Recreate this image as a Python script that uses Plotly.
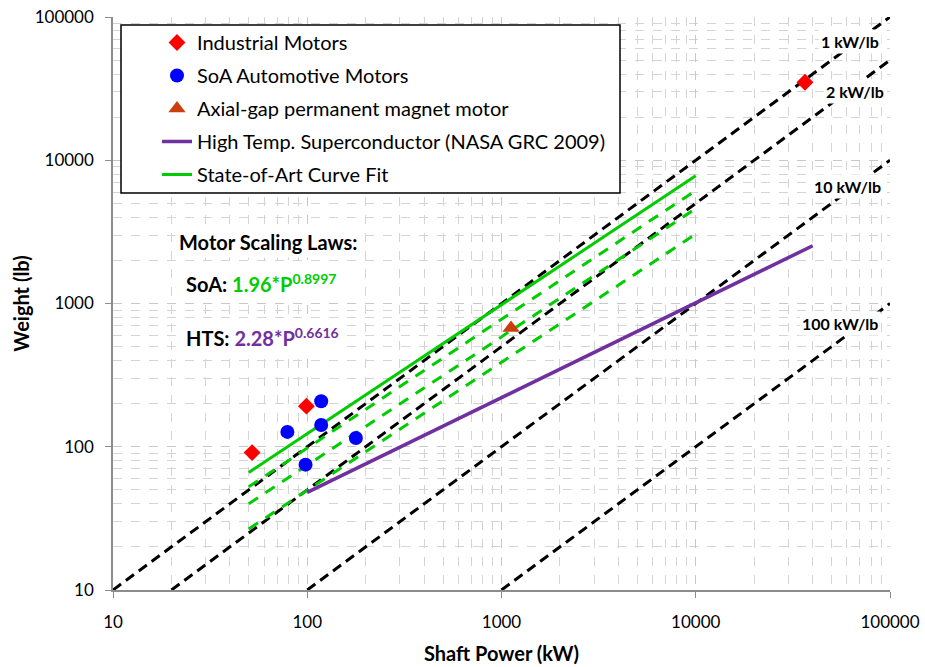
import plotly.graph_objects as go

# ---- data ----
ind_x = [52, 99, 36500]
ind_y = [91, 192, 35000]
auto_x = [79, 98, 118, 118, 178]
auto_y = [127, 75, 142, 208, 115]
axial_x = [1120]
axial_y = [675]

# kW/lb reference lines (endpoints)
kwlb_labels = ["1 kW/lb", "2 kW/lb", "10 kW/lb", "100 kW/lb"]
kwlb_x = [[10, 100000], [20, 100000], [100, 100000], [1000, 100000]]
kwlb_y = [[10, 100000], [10, 50000], [10, 10000], [10, 1000]]

# State-of-Art curve fit and offset variants
soa_x = [50, 10000]
soa_y = [66.2, 7783]
soa_var_y = [[52.5, 6150], [40, 4600], [26.7, 3050]]

# HTS line
hts_x = [100, 40000]
hts_y = [48, 2530]

tick_vals = [10, 100, 1000, 10000, 100000]
tick_text = ["10", "100", "1000", "10000", "100000"]

FONT = "Lato"
GREEN = "#00CC00"
PURPLE = "#7030A0"

# plot-area pixel geometry
L, R, T, B = 113, 890, 17, 590
W, H = R - L, B - T
FIG_W, FIG_H = 925, 667


def px(xp):
    return (xp - L) / W


def py(yp):
    return (B - yp) / H


fig = go.Figure()

for xs, ys in zip(kwlb_x, kwlb_y):
    fig.add_trace(go.Scatter(x=xs, y=ys, mode="lines", showlegend=False,
                             line=dict(color="black", width=3, dash="10px,6px"),
                             hoverinfo="skip"))

for ys in soa_var_y:
    fig.add_trace(go.Scatter(x=soa_x, y=ys, mode="lines", showlegend=False,
                             line=dict(color=GREEN, width=3, dash="11px,9px"),
                             hoverinfo="skip"))

fig.add_trace(go.Scatter(x=hts_x, y=hts_y, mode="lines", name="High Temp. Superconductor (NASA GRC 2009)",
                         legendgroup="d", legendrank=4,
                         line=dict(color=PURPLE, width=3.5)))
fig.add_trace(go.Scatter(x=soa_x, y=soa_y, mode="lines", name="State-of-Art Curve Fit",
                         legendgroup="e", legendrank=5,
                         line=dict(color=GREEN, width=3)))
fig.add_trace(go.Scatter(x=ind_x, y=ind_y, mode="markers", name="Industrial Motors",
                         legendgroup="a", legendrank=1,
                         marker=dict(symbol="diamond", color="#FF0000", size=13)))
fig.add_trace(go.Scatter(x=auto_x, y=auto_y, mode="markers", name="SoA Automotive Motors",
                         legendgroup="b", legendrank=2,
                         marker=dict(symbol="circle", color="#0000FF", size=14)))
fig.add_trace(go.Scatter(x=axial_x, y=axial_y, mode="markers", name="Axial-gap permanent magnet motor",
                         legendgroup="c", legendrank=3,
                         marker=dict(symbol="triangle-up", color="#C9400E", size=15)))

# kW/lb labels (positions in log10 axis units)
label_pos = [(4.794, 4.832), (4.820, 4.483), (4.779, 3.820), (4.743, 2.857)]
for txt, (lx, ly) in zip(kwlb_labels, label_pos):
    fig.add_annotation(x=lx, y=ly, text="<b>%s</b>" % txt, xanchor="center", yanchor="middle",
                       showarrow=False, font=dict(family=FONT, size=16, color="black"),
                       bgcolor="white", borderpad=2)

fig.add_annotation(xref="paper", yref="paper", x=px(268), y=py(242), xanchor="center", yanchor="middle",
                   text="<b>Motor Scaling Laws:</b>", showarrow=False,
                   font=dict(family=FONT, size=20, color="black"), bgcolor="white", borderpad=3)
fig.add_annotation(xref="paper", yref="paper", x=px(182), y=py(283), xanchor="left", yanchor="middle",
                   text="<b>SoA: <span style='color:%s'>1.96*P<sup>0.8997</sup></span></b>" % GREEN,
                   showarrow=False, font=dict(family=FONT, size=20, color="black"), bgcolor="white",
                   borderpad=3)
fig.add_annotation(xref="paper", yref="paper", x=px(182), y=py(337), xanchor="left", yanchor="middle",
                   text="<b>HTS: <span style='color:%s'>2.28*P<sup>0.6616</sup></span></b>" % PURPLE,
                   showarrow=False, font=dict(family=FONT, size=20, color="black"), bgcolor="white",
                   borderpad=3)

# legend box
fig.add_shape(type="rect", xref="paper", yref="paper", x0=px(121), x1=px(620), y0=py(193), y1=py(25),
              line=dict(color="black", width=1.5), fillcolor="white", layer="above")

axis_common = dict(
    type="log",
    tickmode="array", tickvals=tick_vals, ticktext=tick_text,
    showgrid=True, gridcolor="#c8c8c8", griddash="dash", gridwidth=1,
    minor=dict(dtick="D1", showgrid=True, gridcolor="#d4d4d4", griddash="dash", gridwidth=1),
    showline=True, linecolor="#8c8c8c", linewidth=1.5,
    ticks="outside", ticklen=6, tickcolor="#8c8c8c",
    tickfont=dict(family=FONT, size=17, color="black"),
    ticklabeloverflow="allow",
    zeroline=False, automargin=False,
)

fig.update_layout(
    width=FIG_W, height=FIG_H,
    margin=dict(l=L, r=FIG_W - R, t=T, b=FIG_H - B),
    plot_bgcolor="white", paper_bgcolor="white",
    xaxis=dict(range=[1, 5], ticklabelstandoff=10,
               title=dict(text="<b>Shaft Power (kW)</b>", standoff=16,
                          font=dict(family=FONT, size=20, color="black")),
               **axis_common),
    yaxis=dict(range=[1, 5], ticklabelstandoff=8,
               title=dict(text="<b>Weight (lb)</b>", standoff=0,
                          font=dict(family=FONT, size=20, color="black")),
               **axis_common),
    legend=dict(x=px(157), y=py(23), xanchor="left", yanchor="top",
                bgcolor="rgba(0,0,0,0)", borderwidth=0,
                font=dict(family=FONT, size=20, color="black"),
                traceorder="grouped", tracegroupgap=4, itemwidth=30),
    showlegend=True,
)

fig.write_html("out.html", config={"displayModeBar": False},
               post_script="document.body.style.margin='0px';document.body.style.overflow='hidden';")
